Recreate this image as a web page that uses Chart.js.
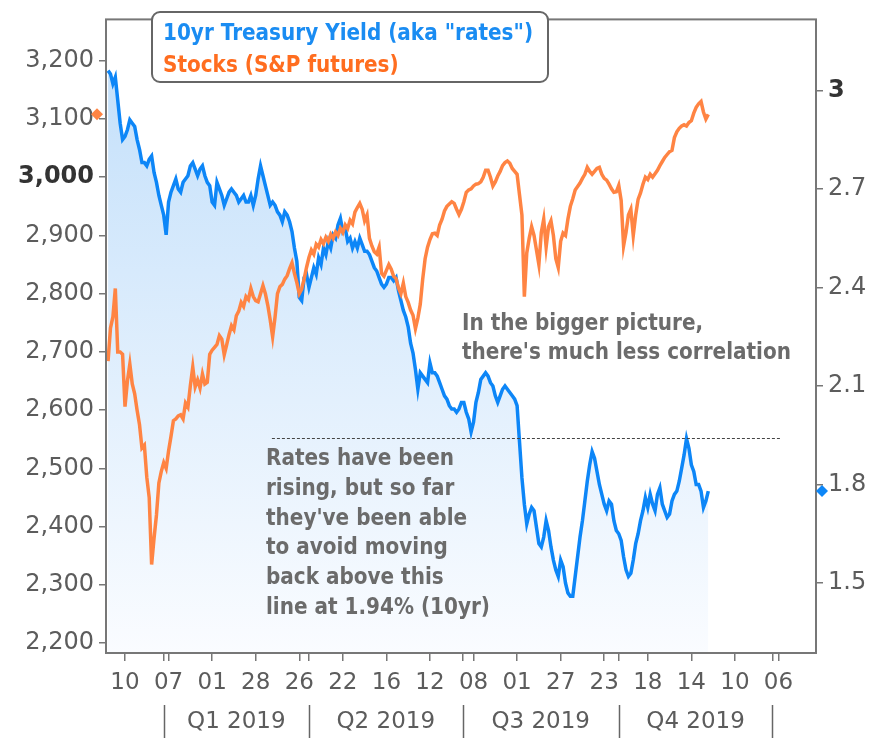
<!DOCTYPE html>
<html>
<head>
<meta charset="utf-8">
<script src="https://cdn.jsdelivr.net/npm/chart.js@4.4.1/dist/chart.umd.min.js"></script>
<style>
  html, body { margin: 0; padding: 0; background: #fff; }
  #wrap { width: 872px; height: 738px; }
</style>
</head>
<body>
<div id="wrap"><canvas id="chart" width="872" height="738"></canvas></div>
<script>
// x values are trading days, 0 = 10 Dec 2018
const firstDay = -7;

// 10yr treasury yield, one value per trading day
const rates = [
  3.06, 3.05, 3.02, 3.04, 2.97, 2.90, 2.85, 2.86, 2.88, 2.91,
  2.90, 2.89, 2.85, 2.82, 2.78, 2.78, 2.77, 2.79, 2.80, 2.75,
  2.72, 2.68, 2.65, 2.62, 2.56, 2.66, 2.69, 2.71, 2.73, 2.70,
  2.69, 2.72, 2.73, 2.74, 2.77, 2.78, 2.76, 2.74, 2.76, 2.77,
  2.74, 2.72, 2.71, 2.66, 2.65, 2.72, 2.70, 2.68, 2.65, 2.67,
  2.69, 2.70, 2.69, 2.68, 2.66, 2.67, 2.68, 2.66, 2.66, 2.68,
  2.65, 2.68, 2.73, 2.77, 2.74, 2.71, 2.68, 2.65, 2.66, 2.65,
  2.63, 2.62, 2.60, 2.63, 2.62, 2.60, 2.57, 2.52, 2.48, 2.37,
  2.36, 2.43, 2.44, 2.40, 2.43, 2.46, 2.44, 2.49, 2.47, 2.52,
  2.50, 2.54, 2.52, 2.56, 2.55, 2.59, 2.61, 2.57, 2.58, 2.54,
  2.55, 2.52, 2.54, 2.52, 2.55, 2.53, 2.51, 2.51, 2.50, 2.48,
  2.46, 2.45, 2.43, 2.41, 2.40, 2.41, 2.43, 2.43, 2.42, 2.43,
  2.39, 2.36, 2.33, 2.31, 2.28, 2.23, 2.20, 2.15, 2.09, 2.14,
  2.13, 2.12, 2.11, 2.17, 2.14, 2.14, 2.13, 2.11, 2.09, 2.07,
  2.06, 2.04, 2.03, 2.03, 2.02, 2.03, 2.05, 2.05, 2.02, 2.00,
  1.96, 1.99, 2.05, 2.08, 2.12, 2.13, 2.14, 2.13, 2.11, 2.10,
  2.07, 2.05, 2.07, 2.09, 2.10, 2.09, 2.08, 2.07, 2.06, 2.04,
  1.93, 1.82, 1.74, 1.68, 1.71, 1.73, 1.72, 1.67, 1.62, 1.61,
  1.64, 1.69, 1.66, 1.61, 1.57, 1.54, 1.52, 1.57, 1.55, 1.50,
  1.47, 1.46, 1.46, 1.52, 1.58, 1.64, 1.69, 1.75, 1.81, 1.86,
  1.90, 1.88, 1.84, 1.80, 1.77, 1.74, 1.72, 1.75, 1.74, 1.69,
  1.66, 1.65, 1.63, 1.58, 1.54, 1.52, 1.53, 1.57, 1.62, 1.65,
  1.69, 1.72, 1.76, 1.73, 1.77, 1.74, 1.72, 1.77, 1.79, 1.74,
  1.72, 1.70, 1.71, 1.75, 1.77, 1.78, 1.81, 1.85, 1.89, 1.94,
  1.91, 1.86, 1.84, 1.80, 1.80, 1.78, 1.73, 1.75, 1.78
];

// S&P futures, one value per trading day
const stocks = [
  2684, 2741, 2760, 2809, 2700, 2700, 2696, 2606, 2650, 2679,
  2645, 2628, 2600, 2575, 2535, 2540, 2485, 2450, 2335, 2380,
  2420, 2475, 2495, 2510, 2500, 2530, 2555, 2582, 2585, 2590,
  2592, 2585, 2612, 2605, 2642, 2674, 2640, 2652, 2638, 2662,
  2645, 2648, 2696, 2703, 2708, 2713, 2728, 2722, 2695, 2712,
  2730, 2745, 2738, 2762, 2770, 2785, 2778, 2795, 2790, 2809,
  2795, 2788, 2786, 2800, 2814, 2800, 2780, 2755, 2726, 2760,
  2800, 2812, 2816, 2825, 2831, 2843, 2853, 2835, 2819, 2800,
  2808, 2825, 2845, 2862, 2875, 2868, 2885, 2880, 2893, 2886,
  2897, 2890, 2902, 2895, 2906, 2900, 2912, 2905, 2918, 2912,
  2926, 2920, 2940, 2948, 2955, 2945, 2925, 2935, 2895, 2882,
  2872, 2868, 2880, 2835, 2830, 2840, 2850, 2842, 2830, 2826,
  2810, 2800, 2818, 2795, 2785, 2772, 2763, 2740, 2758, 2782,
  2825, 2860, 2880, 2893, 2903, 2904, 2900, 2918, 2928, 2942,
  2950, 2954, 2958, 2955, 2945, 2936, 2945, 2958, 2974, 2978,
  2980, 2985, 2988, 2989, 2992, 3000, 3012, 3012, 3000, 2985,
  2992, 3002, 3010, 3020, 3025, 3028, 3024, 3015, 3010, 3005,
  2970, 2935, 2795, 2870, 2895, 2915, 2900, 2875, 2850, 2905,
  2928, 2880, 2915, 2925, 2900, 2860, 2845, 2890, 2904, 2900,
  2928, 2950, 2963, 2978, 2984, 2990, 2998, 3005, 3017, 3010,
  3005, 3010, 3015, 3017, 3005, 2998, 2995, 2988, 2980, 2974,
  2975, 2986, 2960, 2882, 2905, 2935, 2945, 2900, 2935, 2962,
  2973, 2988, 3000, 2996, 3005, 3000, 3006, 3012, 3020, 3027,
  3034, 3039, 3044, 3046, 3068, 3078, 3084, 3088, 3090, 3088,
  3094, 3097, 3110, 3120, 3126, 3130, 3112, 3100, 3108
];

const tickDays = [0, 18, 36, 54, 72, 90, 108, 126, 144, 162, 180, 198, 216, 234, 252, 270];
const tickLabels = ['10', '07', '01', '28', '26', '22', '16', '12', '08', '01', '27', '23', '18', '14', '10', '06'];
const quarterDays = [16, 76, 139.5, 204, 267.5];
const quarterLabels = ['Q1 2019', 'Q2 2019', 'Q3 2019', 'Q4 2019'];
const leftTicks = [2200, 2300, 2400, 2500, 2600, 2700, 2800, 2900, 3000, 3100, 3200];
const rightTicks = [1.5, 1.8, 2.1, 2.4, 2.7, 3];

// the 1.94% line
const lineDays = [60.7, 270.7];
const lineLevel = 1.94;

const legendLines = ['10yr Treasury Yield (aka "rates")', 'Stocks (S&P futures)'];
const noteTop = ['In the bigger picture,', "there's much less correlation"];
const noteBottom = ['Rates have been', 'rising, but so far', "they've been able", 'to avoid moving', 'back above this', 'line at 1.94% (10yr)'];

const BLUE = '#0d86f7';
const ORANGE = '#ff8443';
const AXIS = '#777';
const LABEL = '#5c5c5c';

function squeezed(ctx, text, x, y) {
    ctx.save();
    ctx.translate(x, y);
    ctx.scale(0.87, 1);
    ctx.fillText(text, 0, 0);
    ctx.restore();
}

function diamond(ctx, x, y, r, color) {
    ctx.beginPath();
    ctx.moveTo(x, y - r);
    ctx.lineTo(x + r, y);
    ctx.lineTo(x, y + r);
    ctx.lineTo(x - r, y);
    ctx.closePath();
    ctx.fillStyle = color;
    ctx.fill();
}

const decor = {
    id: 'decor',
    afterDatasetsDraw(chart) {
        const { ctx, chartArea: a, scales } = chart;
        ctx.save();

        // frame around the plot
        ctx.strokeStyle = AXIS;
        ctx.lineWidth = 2;
        ctx.strokeRect(a.left, a.top, a.right - a.left, a.bottom - a.top);

        // last value markers on both axes
        diamond(ctx, a.left - 9, scales.y.getPixelForValue(stocks[stocks.length - 1]), 6, ORANGE);
        diamond(ctx, a.right + 6, scales.y2.getPixelForValue(rates[rates.length - 1]), 6, BLUE);

        // legend box
        ctx.beginPath();
        ctx.roundRect(152, 12, 396, 70, 8);
        ctx.fillStyle = '#fff';
        ctx.fill();
        ctx.strokeStyle = '#666';
        ctx.lineWidth = 2;
        ctx.stroke();
        ctx.font = 'bold 23px "DejaVu Sans"';
        ctx.textBaseline = 'alphabetic';
        ctx.textAlign = 'left';
        ctx.fillStyle = '#1a8cf2';
        squeezed(ctx, legendLines[0], 163, 40);
        ctx.fillStyle = '#ff6d1f';
        squeezed(ctx, legendLines[1], 163, 72);

        // notes
        ctx.fillStyle = '#6b6b6b';
        noteTop.forEach((t, i) => squeezed(ctx, t, 462, 330 + i * 29));
        noteBottom.forEach((t, i) => squeezed(ctx, t, 266, 465 + i * 29.8));

        // quarter row under the axis
        const x = scales.x;
        ctx.strokeStyle = '#666';
        ctx.lineWidth = 1.5;
        quarterDays.forEach(d => {
            const px = Math.round(x.getPixelForValue(d)) + 0.5;
            ctx.beginPath();
            ctx.moveTo(px, 705);
            ctx.lineTo(px, 738);
            ctx.stroke();
        });
        ctx.font = '23px "DejaVu Sans"';
        ctx.fillStyle = LABEL;
        ctx.textAlign = 'center';
        ctx.textBaseline = 'middle';
        quarterLabels.forEach((q, i) => {
            const mid = (x.getPixelForValue(quarterDays[i]) + x.getPixelForValue(quarterDays[i + 1])) / 2;
            ctx.fillText(q, mid, 722);
        });

        ctx.restore();
    }
};

const ctx = document.getElementById('chart').getContext('2d');

new Chart(ctx, {
    type: 'line',
    data: {
        datasets: [
            {
                label: 'Stocks (S&P futures)',
                data: stocks.map((v, i) => ({ x: firstDay + i, y: v })),
                yAxisID: 'y',
                borderColor: ORANGE,
                borderWidth: 3.5,
                pointRadius: 0,
                fill: false,
                order: 1
            },
            {
                label: '10yr Treasury Yield',
                data: rates.map((v, i) => ({ x: firstDay + i, y: v })),
                yAxisID: 'y2',
                borderColor: BLUE,
                borderWidth: 3.5,
                pointRadius: 0,
                fill: 'start',
                backgroundColor: function(context) {
                    const { ctx, chartArea } = context.chart;
                    if (!chartArea) return 'rgba(200,225,250,0.6)';
                    const g = ctx.createLinearGradient(0, chartArea.top, 0, chartArea.bottom);
                    g.addColorStop(0, 'rgb(192,222,250)');
                    g.addColorStop(1, 'rgb(250,252,255)');
                    return g;
                },
                order: 2
            },
            {
                label: '1.94',
                data: lineDays.map(d => ({ x: d, y: lineLevel })),
                yAxisID: 'y2',
                borderColor: '#444',
                borderWidth: 1,
                borderDash: [3, 2],
                pointRadius: 0,
                fill: false,
                order: 0
            }
        ]
    },
    options: {
        responsive: false,
        animation: false,
        devicePixelRatio: 1,
        layout: { padding: { top: 10 } },
        plugins: {
            legend: { display: false },
            tooltip: { enabled: false }
        },
        scales: {
            x: {
                type: 'linear',
                min: -7.85,
                max: 285.5,
                afterBuildTicks: scale => {
                    scale.ticks = tickDays.concat(quarterDays).map(v => ({ value: v }));
                },
                afterFit: scale => { scale.height = 85; },
                grid: { drawOnChartArea: false, color: AXIS, lineWidth: 1.5, tickLength: 8 },
                border: { display: false },
                ticks: {
                    autoSkip: false,
                    maxRotation: 0,
                    padding: 8,
                    color: LABEL,
                    font: { family: 'DejaVu Sans', size: 23 },
                    callback: (v, i) => (i < tickLabels.length ? tickLabels[i] : '')
                }
            },
            y: {
                position: 'left',
                min: 2183,
                max: 3271,
                afterBuildTicks: scale => {
                    scale.ticks = leftTicks.map(v => ({ value: v }));
                },
                afterFit: scale => { scale.width = 106; },
                grid: { drawOnChartArea: false, color: AXIS, lineWidth: 1.5, tickLength: 7 },
                border: { display: false },
                ticks: {
                    padding: 5,
                    color: c => (c.tick && c.tick.value === 3000 ? '#333' : LABEL),
                    font: c => (c.tick && c.tick.value === 3000
                        ? { family: 'DejaVu Sans', size: 24, weight: 'bold' }
                        : { family: 'DejaVu Sans', size: 24 }),
                    callback: v => v.toLocaleString('en-US')
                }
            },
            y2: {
                position: 'right',
                min: 1.287,
                max: 3.216,
                afterBuildTicks: scale => {
                    scale.ticks = rightTicks.map(v => ({ value: v }));
                },
                afterFit: scale => { scale.width = 56; },
                grid: { drawOnChartArea: false, color: AXIS, lineWidth: 1.5, tickLength: 7 },
                border: { display: false },
                ticks: {
                    padding: 5,
                    color: c => (c.tick && c.tick.value === 3 ? '#333' : LABEL),
                    font: c => (c.tick && c.tick.value === 3
                        ? { family: 'DejaVu Sans', size: 24, weight: 'bold' }
                        : { family: 'DejaVu Sans', size: 24 }),
                    callback: v => String(v)
                }
            }
        }
    },
    plugins: [decor]
});
</script>
</body>
</html>
